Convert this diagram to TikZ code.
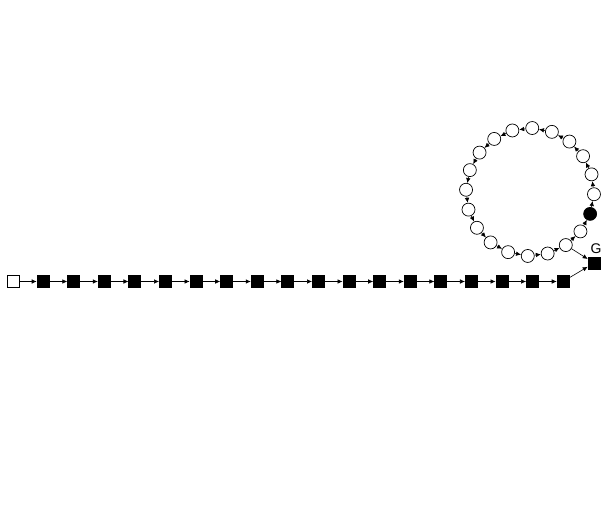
\documentclass[tikz,border=0pt]{standalone}
\usepackage{fontspec}
\setmainfont{Liberation Sans}
\usetikzlibrary{arrows.meta}
\begin{document}
\begin{tikzpicture}[x=1pt,y=-1pt,
 sq/.style={draw=black,fill=black,minimum size=12pt,inner sep=0pt,line width=0.6pt},
 osq/.style={draw=black,fill=white,minimum size=12pt,inner sep=0pt,line width=0.6pt},
 circ/.style={circle,draw=black,fill=white,minimum size=13pt,inner sep=0pt,line width=0.7pt},
 bcirc/.style={circ,fill=black},
 arr/.style={-{Latex[length=5pt,width=4.5pt]},line width=0.6pt}]
\useasboundingbox (0,0) rectangle (605,529);
\node[osq] (s0) at (13.5,281.5) {};
\foreach \i in {1,...,18} { \node[sq] (s\i) at ({43+(\i-1)*30.59},281.5) {}; }
\foreach \i [count=\j from 0] in {1,...,18} { \draw[arr] (s\j) -- (s\i); }
\node[sq] (g) at (594,263) {};
\node[font=\fontsize{14}{14}\selectfont] (gl) at (596,248.5) {G};
\foreach \k in {1,...,20} {
  \pgfmathsetmacro{\ang}{-56+18*(\k-1)}
  \ifnum\k=3
    \node[bcirc] (c\k) at ({530+64*cos(\ang)},{192-64*sin(\ang)}) {};
  \else
    \node[circ] (c\k) at ({530+64*cos(\ang)},{192-64*sin(\ang)}) {};
  \fi
}
\foreach \k [count=\n from 2] in {1,...,19} { \draw[arr] (c\k) -- (c\n); }
\draw[arr] (c20) -- (c1);
\draw[arr] (c1) -- (g);
\draw[arr] (s18) -- (g);
\end{tikzpicture}
\end{document}
